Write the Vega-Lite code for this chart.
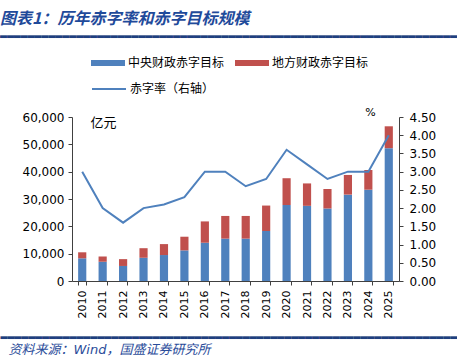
{
  "$schema": "https://vega.github.io/schema/vega-lite/v6.json",
  "width": 327,
  "height": 164,
  "autosize": {"type": "none"},
  "padding": {"left": 72, "top": 117, "right": 58, "bottom": 79},
  "background": "white",
  "title": {
    "text": "\u2002图表1：历年赤字率和赤字目标规模",
    "subtitle": "\u2582\u2582\u2582\u2582\u2582\u2582\u2582\u2582\u2582\u2582\u2582\u2582\u2582\u2582\u2582\u2582\u2582\u2582\u2582\u2582\u2582\u2582\u2582\u2582\u2582\u2582\u2582\u2582\u2582\u2582\u2582\u2582\u2582\u2582\u2582\u2582\u2582\u2582\u2582\u2582\u2582\u2582\u2582\u2582\u2582\u2582\u2582\u2582\u2582\u2582\u2582\u2582\u2582\u2582\u2582\u2582\u2582\u2582\u2582\u2582\u2582\u2582\u2582\u2582\u2582\u2582\u2582\u2582",
    "anchor": "start",
    "frame": "group",
    "dx": -72,
    "dy": -4,
    "font": "Noto Sans CJK SC",
    "fontSize": 16,
    "fontStyle": "italic",
    "fontWeight": "bold",
    "color": "#1F4A9A",
    "subtitleFont": "DejaVu Sans",
    "subtitleFontSize": 9,
    "subtitleColor": "#1F3F7F",
    "subtitlePadding": 2
  },
  "config": {
    "view": {"stroke": null},
    "axis": {
      "labelFont": "DejaVu Sans",
      "labelFontSize": 12,
      "labelColor": "#000000",
      "domainColor": "#404040",
      "tickColor": "#404040",
      "grid": false
    }
  },
  "datasets": {
    "bars": [
      {"year": "2010", "type": "中央财政赤字目标", "value": 8300},
      {"year": "2010", "type": "地方财政赤字目标", "value": 2200},
      {"year": "2011", "type": "中央财政赤字目标", "value": 7000},
      {"year": "2011", "type": "地方财政赤字目标", "value": 2000},
      {"year": "2012", "type": "中央财政赤字目标", "value": 5500},
      {"year": "2012", "type": "地方财政赤字目标", "value": 2500},
      {"year": "2013", "type": "中央财政赤字目标", "value": 8500},
      {"year": "2013", "type": "地方财政赤字目标", "value": 3500},
      {"year": "2014", "type": "中央财政赤字目标", "value": 9500},
      {"year": "2014", "type": "地方财政赤字目标", "value": 4000},
      {"year": "2015", "type": "中央财政赤字目标", "value": 11200},
      {"year": "2015", "type": "地方财政赤字目标", "value": 5000},
      {"year": "2016", "type": "中央财政赤字目标", "value": 14000},
      {"year": "2016", "type": "地方财政赤字目标", "value": 7800},
      {"year": "2017", "type": "中央财政赤字目标", "value": 15500},
      {"year": "2017", "type": "地方财政赤字目标", "value": 8300},
      {"year": "2018", "type": "中央财政赤字目标", "value": 15500},
      {"year": "2018", "type": "地方财政赤字目标", "value": 8300},
      {"year": "2019", "type": "中央财政赤字目标", "value": 18300},
      {"year": "2019", "type": "地方财政赤字目标", "value": 9300},
      {"year": "2020", "type": "中央财政赤字目标", "value": 27800},
      {"year": "2020", "type": "地方财政赤字目标", "value": 9800},
      {"year": "2021", "type": "中央财政赤字目标", "value": 27500},
      {"year": "2021", "type": "地方财政赤字目标", "value": 8200},
      {"year": "2022", "type": "中央财政赤字目标", "value": 26500},
      {"year": "2022", "type": "地方财政赤字目标", "value": 7200},
      {"year": "2023", "type": "中央财政赤字目标", "value": 31600},
      {"year": "2023", "type": "地方财政赤字目标", "value": 7200},
      {"year": "2024", "type": "中央财政赤字目标", "value": 33400},
      {"year": "2024", "type": "地方财政赤字目标", "value": 7200},
      {"year": "2025", "type": "中央财政赤字目标", "value": 48600},
      {"year": "2025", "type": "地方财政赤字目标", "value": 8000}
    ],
    "rate": [
      {"year": "2010", "series": "赤字率（右轴）", "rate": 3.0},
      {"year": "2011", "series": "赤字率（右轴）", "rate": 2.0},
      {"year": "2012", "series": "赤字率（右轴）", "rate": 1.6},
      {"year": "2013", "series": "赤字率（右轴）", "rate": 2.0},
      {"year": "2014", "series": "赤字率（右轴）", "rate": 2.1},
      {"year": "2015", "series": "赤字率（右轴）", "rate": 2.3},
      {"year": "2016", "series": "赤字率（右轴）", "rate": 3.0},
      {"year": "2017", "series": "赤字率（右轴）", "rate": 3.0},
      {"year": "2018", "series": "赤字率（右轴）", "rate": 2.6},
      {"year": "2019", "series": "赤字率（右轴）", "rate": 2.8},
      {"year": "2020", "series": "赤字率（右轴）", "rate": 3.6},
      {"year": "2021", "series": "赤字率（右轴）", "rate": 3.2},
      {"year": "2022", "series": "赤字率（右轴）", "rate": 2.8},
      {"year": "2023", "series": "赤字率（右轴）", "rate": 3.0},
      {"year": "2024", "series": "赤字率（右轴）", "rate": 3.0},
      {"year": "2025", "series": "赤字率（右轴）", "rate": 4.0}
    ]
  },
  "layer": [
    {
      "data": {"name": "bars"},
      "mark": {"type": "bar"},
      "encoding": {
        "x": {
          "field": "year",
          "type": "ordinal",
          "scale": {"paddingInner": 0.6, "paddingOuter": 0.3},
          "axis": {
            "labelAngle": -90,
            "labelAlign": "right",
            "labelBaseline": "middle",
            "labelFontSize": 11,
            "labelPadding": 5,
            "tickSize": 4,
            "tickBand": "extent",
            "title": "资料来源：Wind，国盛证券研究所",
            "titleFont": "DejaVu Sans, Noto Sans CJK SC",
            "titleFontSize": 13,
            "titleFontStyle": "italic",
            "titleFontWeight": "normal",
            "titleColor": "#2A4C9A",
            "titleAlign": "left",
            "titleBaseline": "middle",
            "titleX": -64,
            "titleY": 68
          }
        },
        "y": {
          "field": "value",
          "type": "quantitative",
          "stack": "zero",
          "scale": {"domain": [0, 60000]},
          "axis": {
            "values": [0, 10000, 20000, 30000, 40000, 50000, 60000],
            "format": ",d",
            "tickSize": 4,
            "labelPadding": 4,
            "title": "亿元",
            "titleAngle": 0,
            "titleAlign": "left",
            "titleBaseline": "middle",
            "titleX": 18,
            "titleY": 5,
            "titleFont": "Noto Sans CJK SC",
            "titleFontSize": 13,
            "titleFontWeight": "normal",
            "titleColor": "#000000"
          }
        },
        "order": {"field": "type", "sort": "ascending"},
        "color": {
          "field": "type",
          "type": "nominal",
          "scale": {"domain": ["中央财政赤字目标", "地方财政赤字目标"], "range": ["#4F81BD", "#C0504D"]},
          "legend": {
            "orient": "none",
            "legendX": 19,
            "legendY": -71,
            "direction": "horizontal",
            "columns": 2,
            "title": null,
            "symbolType": "M-1,-0.18H1V0.18H-1Z",
            "symbolSize": 1156,
            "symbolStrokeWidth": 0,
            "labelFont": "Noto Sans CJK SC",
            "labelFontSize": 12,
            "labelColor": "#000000",
            "labelOffset": 3,
            "columnPadding": 10
          }
        }
      }
    },
    {
      "data": {"name": "rate"},
      "mark": {"type": "line", "strokeWidth": 2},
      "encoding": {
        "x": {
          "field": "year",
          "type": "ordinal",
          "axis": {
            "orient": "top",
            "labels": false,
            "ticks": false,
            "domain": false,
            "title": "\u2582\u2582\u2582\u2582\u2582\u2582\u2582\u2582\u2582\u2582\u2582\u2582\u2582\u2582\u2582\u2582\u2582\u2582\u2582\u2582\u2582\u2582\u2582\u2582\u2582\u2582\u2582\u2582\u2582\u2582\u2582\u2582\u2582\u2582\u2582\u2582\u2582\u2582\u2582\u2582\u2582\u2582\u2582\u2582\u2582\u2582\u2582\u2582\u2582\u2582\u2582\u2582\u2582\u2582\u2582\u2582\u2582\u2582\u2582\u2582\u2582\u2582\u2582\u2582\u2582\u2582\u2582\u2582",
            "titleFont": "DejaVu Sans",
            "titleFontSize": 9,
            "titleFontWeight": "normal",
            "titleColor": "#1F3F7F",
            "titleAlign": "left",
            "titleBaseline": "alphabetic",
            "titleX": -72,
            "titleY": 219
          }
        },
        "y": {
          "field": "rate",
          "type": "quantitative",
          "scale": {"domain": [0, 4.5]},
          "axis": {
            "orient": "right",
            "values": [0, 0.5, 1, 1.5, 2, 2.5, 3, 3.5, 4, 4.5],
            "format": ".2f",
            "tickSize": 4,
            "labelPadding": 6,
            "title": "%",
            "titleAngle": 0,
            "titleAlign": "center",
            "titleBaseline": "middle",
            "titleX": -29,
            "titleY": -5,
            "titleFont": "DejaVu Sans",
            "titleFontSize": 11,
            "titleFontWeight": "normal",
            "titleColor": "#000000"
          }
        },
        "stroke": {
          "field": "series",
          "type": "nominal",
          "scale": {"range": ["#4F81BD"]},
          "legend": {
            "orient": "none",
            "legendX": 19,
            "legendY": -46,
            "title": null,
            "symbolType": "stroke",
            "symbolSize": 1156,
            "symbolStrokeWidth": 2,
            "labelFont": "Noto Sans CJK SC",
            "labelFontSize": 12,
            "labelColor": "#000000",
            "labelOffset": 3
          }
        }
      }
    }
  ],
  "resolve": {"scale": {"y": "independent"}, "axis": {"x": "independent"}}
}
